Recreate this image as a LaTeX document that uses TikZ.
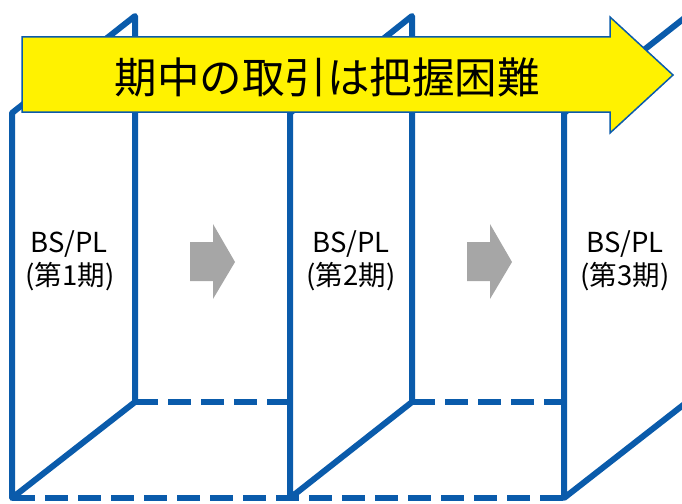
\documentclass[tikz,border=0pt]{standalone}
\usepackage{fontspec}
\setmainfont{Noto Sans CJK JP}
\definecolor{boxblue}{HTML}{0A5BAB}
\definecolor{arrowgray}{HTML}{A6A6A6}
\begin{document}
\begin{tikzpicture}[x=1pt,y=-1pt,
  edge/.style={draw=boxblue,line width=6pt,line join=round},
  dashedge/.style={draw=boxblue,line width=6pt,dash pattern=on 23pt off 10pt},
  grayarrow/.style={fill=arrowgray},
  bigarrow/.style={draw=boxblue,line width=1.5pt,fill=yellow,line join=miter},
  lbl/.style={font=\fontsize{27.5}{30}\selectfont,anchor=base,inner sep=0pt}]
\useasboundingbox (0,0) rectangle (682,503);
% boxes
\foreach \F/\B in {12/135, 290/412, 564/687} {
  \draw[edge] (\F,498) -- (\F,113) -- (\B,16) -- (\B,402) -- cycle;
}
\draw[dashedge] (135,402) -- (290,402);
\draw[dashedge] (412,402) -- (564,402);
\draw[dashedge] (12,498) -- (564,498);
% gray arrows
\foreach \d in {0,277} {
  \fill[grayarrow] (190+\d,242) -- (213+\d,242) -- (213+\d,224) -- (235+\d,262)
    -- (213+\d,299) -- (213+\d,281) -- (190+\d,281) -- cycle;
}
% yellow arrow
\draw[bigarrow] (22,37) -- (610,37) -- (610,17) -- (673,75) -- (610,133)
  -- (610,112) -- (22,112) -- cycle;
\node[font=\fontsize{42.5}{45}\selectfont,inner sep=0pt] (title) at (327,77) {期中の取引は把握困難};
% labels
\node[lbl] (bs1) at (69,252) {BS/PL};
\node[lbl] (p1) at (70,285) {(第1期)};
\node[lbl] (bs2) at (351,252) {BS/PL};
\node[lbl] (p2) at (351,285) {(第2期)};
\node[lbl] (bs3) at (625,252) {BS/PL};
\node[lbl] (p3) at (625,285) {(第3期)};
\end{tikzpicture}
\end{document}
